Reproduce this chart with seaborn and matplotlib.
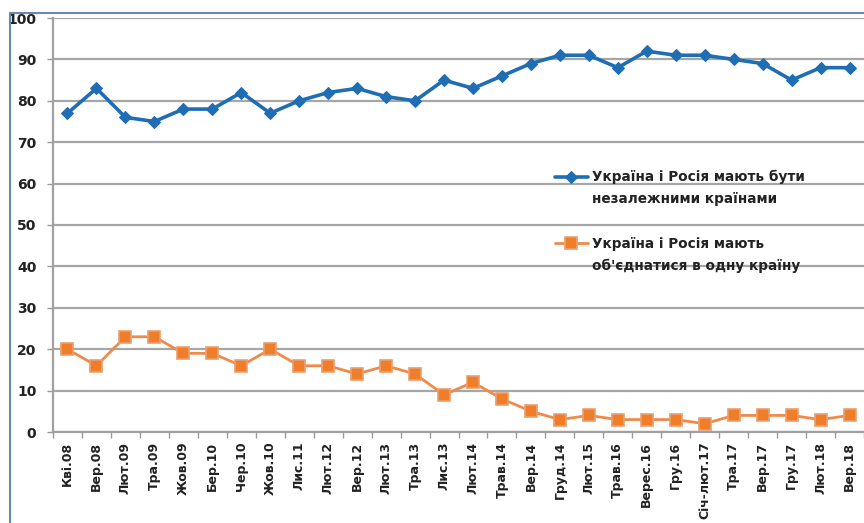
import matplotlib
matplotlib.use("Agg")
import matplotlib.pyplot as plt
from matplotlib.lines import Line2D
import seaborn as sns
import numpy as np

labels = ["Кві.08", "Вер.08", "Лют.09", "Тра.09", "Жов.09", "Бер.10", "Чер.10",
          "Жов.10", "Лис.11", "Лют.12", "Вер.12", "Лют.13", "Тра.13", "Лис.13",
          "Лют.14", "Трав.14", "Вер.14", "Груд.14", "Лют.15", "Трав.16",
          "Верес.16", "Гру.16", "Січ-лют.17", "Тра.17", "Вер.17", "Гру.17",
          "Лют.18", "Вер.18"]
independent = [77, 83, 76, 75, 78, 78, 82, 77, 80, 82, 83, 81, 80, 85, 83, 86,
               89, 91, 91, 88, 92, 91, 91, 90, 89, 85, 88, 88]
unite = [20, 16, 23, 23, 19, 19, 16, 20, 16, 16, 14, 16, 14, 9, 12, 8, 5, 3, 4,
         3, 3, 3, 2, 4, 4, 4, 3, 4]
name_ind = ["Україна і Росія мають бути", "незалежними країнами"]
name_uni = ["Україна і Росія мають", "об'єднатися в одну країну"]

sns.set_theme(style="white")
plt.rcParams['font.family'] = ['DejaVu Sans']

fig = plt.figure(figsize=(8.64, 5.23), dpi=100)
W, H = 864, 523
ax = fig.add_axes([53 / W, 1 - 432 / H, (864 - 53) / W, (432 - 18) / H])

x = np.arange(len(labels))
sns.lineplot(x=x, y=independent, ax=ax, color="#1f6db3", lw=2.6, marker="D",
             markersize=6, markeredgecolor="#1f6db3", legend=False)
sns.lineplot(x=x, y=unite, ax=ax, color="#f08a4b", lw=2.0, marker="s",
             markersize=8, markerfacecolor="#f07d2a", markeredgecolor="#e8a070",
             markeredgewidth=1.2, legend=False)
h_ind, h_uni = ax.get_lines()[0], ax.get_lines()[1]

spacing = 29.33
ax.set_xlim(-0.5, -0.5 + (864 - 53) / spacing)
ax.set_ylim(0, 100)
ax.set_yticks(range(0, 101, 10))
ax.set_xticks(x)
ax.set_xticklabels(labels, rotation=90, fontsize=9, fontweight="bold",
                   color="#222222")
ax.set_xticks(np.arange(-0.5, len(labels), 1), minor=True)
ax.tick_params(axis="x", which="major", length=0, pad=7)
ax.tick_params(axis="x", which="minor", length=4, width=1, color="#999999",
               direction="out", bottom=True)
ax.tick_params(axis="y", length=4, width=1, color="#999999", direction="out",
               left=True, labelsize=10, labelcolor="#222222", pad=8)
for t in ax.get_yticklabels():
    t.set_fontweight("bold")

ax.yaxis.grid(True, color="#a6a6a6", lw=1.6)
ax.xaxis.grid(False)
ax.set_axisbelow(True)
for s in ["top", "right"]:
    ax.spines[s].set_visible(False)
for s in ["left", "bottom"]:
    ax.spines[s].set_color("#a0a0a0")
    ax.spines[s].set_linewidth(1.6)
ax.set_facecolor("white")

blank = Line2D([], [], color="none", marker=None)


def make_legend(handle, lines, top_px):
    leg = ax.legend([handle, blank], lines, loc="upper left",
                    bbox_to_anchor=((555 - 53) / (864 - 53), (432 - top_px) / 414),
                    frameon=False, fontsize=9.8, handlelength=2.4,
                    handletextpad=0.3, labelspacing=0.55, borderaxespad=0,
                    borderpad=0)
    for t in leg.get_texts():
        t.set_fontweight("bold")
        t.set_color("#222222")
    return leg


leg1 = make_legend(h_ind, name_ind, 170)
ax.add_artist(leg1)
make_legend(h_uni, name_uni, 237)

# picture frame
fig.add_artist(Line2D([10 / W, 10 / W], [0, 1 - 13 / H], color="#6a8aab", lw=1.5))
fig.add_artist(Line2D([10 / W, 1], [1 - 13 / H, 1 - 13 / H], color="#6a8aab", lw=1.5))

fig.savefig("out.png", dpi=100)
